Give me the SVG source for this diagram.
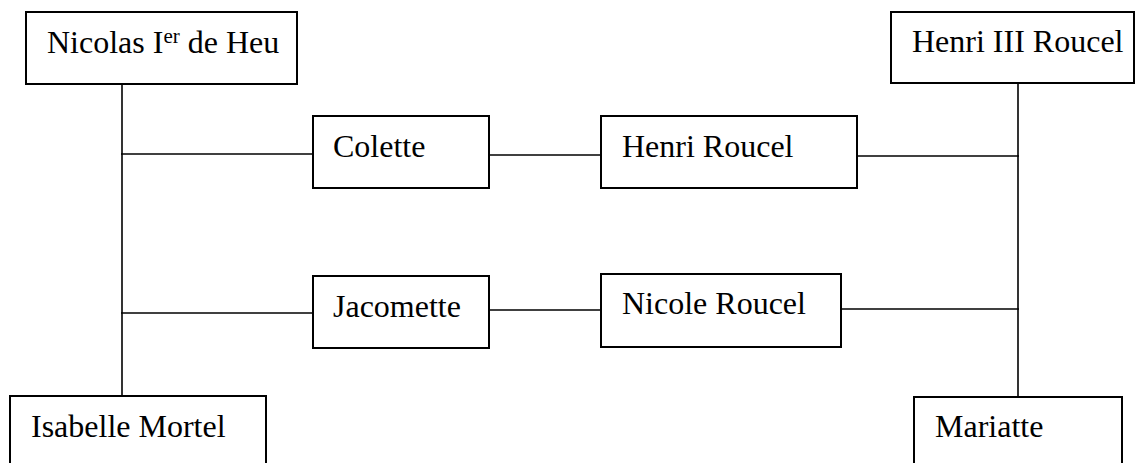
<svg xmlns="http://www.w3.org/2000/svg" width="1135" height="463" viewBox="0 0 1135 463">
<style>
.box{fill:#fff;stroke:#000;stroke-width:2}
.lbl{font-family:"Liberation Serif","Times New Roman",serif;font-size:32px;fill:#000}
.sup{font-size:21px}
.con{stroke:#000;stroke-width:1.6;fill:none}
</style>
<rect width="1135" height="463" fill="#fff"/>
<g id="connectors">
<line class="con" x1="122" y1="84" x2="122" y2="396"/>
<line class="con" x1="1018" y1="83" x2="1018" y2="397"/>
<line class="con" x1="121" y1="154" x2="313" y2="154"/>
<line class="con" x1="121" y1="313" x2="313" y2="313"/>
<line class="con" x1="489" y1="155" x2="601" y2="155"/>
<line class="con" x1="489" y1="310" x2="601" y2="310"/>
<line class="con" x1="857" y1="156" x2="1019" y2="156"/>
<line class="con" x1="841" y1="309" x2="1019" y2="309"/>
</g>
<g id="nicolas">
<rect class="box" x="26" y="12" width="271" height="72"/>
<text class="lbl" x="47" y="53">Nicolas I<tspan class="sup" dy="-10">er</tspan><tspan dy="10"> de Heu</tspan></text>
</g>
<g id="henri3">
<rect class="box" x="891" y="12" width="243" height="71"/>
<text class="lbl" x="912" y="52">Henri III Roucel</text>
</g>
<g id="colette">
<rect class="box" x="313" y="116" width="176" height="72"/>
<text class="lbl" x="333" y="157">Colette</text>
</g>
<g id="henriRoucel">
<rect class="box" x="601" y="116" width="256" height="72"/>
<text class="lbl" x="622" y="157">Henri Roucel</text>
</g>
<g id="jacomette">
<rect class="box" x="313" y="276" width="176" height="72"/>
<text class="lbl" x="333" y="317">Jacomette</text>
</g>
<g id="nicoleRoucel">
<rect class="box" x="601" y="274" width="240" height="73"/>
<text class="lbl" x="622" y="314">Nicole Roucel</text>
</g>
<g id="isabelle">
<rect class="box" x="10" y="396" width="256" height="80"/>
<text class="lbl" x="31" y="437">Isabelle Mortel</text>
</g>
<g id="mariatte">
<rect class="box" x="914" y="397" width="208" height="80"/>
<text class="lbl" x="935" y="437">Mariatte</text>
</g>
</svg>
